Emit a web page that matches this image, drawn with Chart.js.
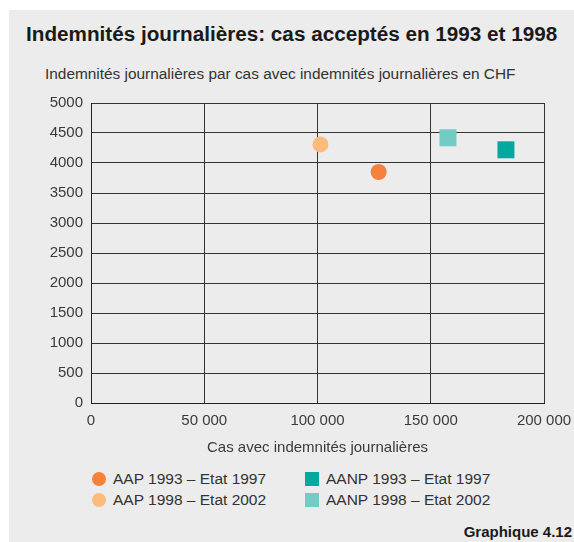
<!DOCTYPE html>
<html lang="fr">
<head>
    <meta charset="UTF-8">
    <title>Indemnités journalières</title>
    <script src="https://cdn.jsdelivr.net/npm/chart.js"></script>
    <style>
        body {
            margin: 0;
            background: #fff;
            font-family: "Liberation Sans", Arial, sans-serif;
            width: 574px;
            height: 542px;
            position: relative;
            overflow: hidden;
        }
        #panel {
            position: absolute;
            left: 9px;
            top: 10px;
            width: 565px;
            height: 532px;
            background: #ebeceb;
        }
        h1 {
            position: absolute;
            left: 26px;
            top: 22px;
            margin: 0;
            font-size: 20.7px;
            font-weight: bold;
            color: #1a1a1a;
            white-space: nowrap;
        }
        .ytitle {
            position: absolute;
            left: 45px;
            top: 65px;
            font-size: 15.4px;
            color: #333;
            white-space: nowrap;
        }
        #chartBox {
            position: absolute;
            left: 0;
            top: 90px;
            width: 574px;
            height: 370px;
        }
        #legend {
            position: absolute;
            left: 92px;
            top: 470px;
            display: grid;
            grid-template-columns: 213px 220px;
            row-gap: 3px;
            font-size: 15.5px;
            color: #333;
        }
        #legend div {
            display: flex;
            align-items: center;
            height: 18px;
            white-space: nowrap;
        }
        #legend span.mark {
            display: inline-block;
            width: 14px;
            height: 14px;
            margin-right: 7px;
        }
        .footer {
            position: absolute;
            right: 2px;
            top: 523px;
            font-size: 15px;
            font-weight: bold;
            color: #1a1a1a;
        }
    </style>
</head>
<body>
<div id="panel"></div>
<h1>Indemnités journalières: cas acceptés en 1993 et 1998</h1>
<div class="ytitle">Indemnités journalières par cas avec indemnités journalières en CHF</div>
<div id="chartBox"><canvas id="scatter"></canvas></div>
<div id="legend"></div>
<div class="footer">Graphique 4.12</div>

<script>
    // données
    const seriesLabels = ['AAP 1993 – Etat 1997', 'AAP 1998 – Etat 2002', 'AANP 1993 – Etat 1997', 'AANP 1998 – Etat 2002'];
    const casIndemnites = [127000, 101300, 183200, 157600];
    const indemniteParCas = [3850, 4310, 4220, 4420];
    const xTicks = [0, 50000, 100000, 150000, 200000];
    const yTicks = [0, 500, 1000, 1500, 2000, 2500, 3000, 3500, 4000, 4500, 5000];

    const colors = ['#f5813a', '#fdbb7e', '#00a99d', '#73cbc4'];
    const shapes = ['circle', 'circle', 'rect', 'rect'];
    const legendOrder = [0, 2, 1, 3];

    const datasets = seriesLabels.map((label, i) => ({
        label: label,
        data: [{x: casIndemnites[i], y: indemniteParCas[i]}],
        backgroundColor: colors[i],
        borderWidth: 0,
        pointStyle: shapes[i],
        pointRadius: shapes[i] === 'rect' ? 12 : 8,
        pointHoverRadius: shapes[i] === 'rect' ? 12 : 8
    }));

    // légende HTML en deux colonnes
    const legend = document.getElementById('legend');
    legendOrder.forEach(i => {
        const item = document.createElement('div');
        const mark = document.createElement('span');
        mark.className = 'mark';
        mark.style.background = colors[i];
        if (shapes[i] === 'circle') mark.style.borderRadius = '50%';
        item.appendChild(mark);
        item.appendChild(document.createTextNode(seriesLabels[i]));
        legend.appendChild(item);
    });

    const tickFont = {family: '"Liberation Sans", Arial, sans-serif', size: 15};

    new Chart(document.getElementById('scatter'), {
        type: 'scatter',
        data: {datasets: datasets},
        options: {
            responsive: true,
            maintainAspectRatio: false,
            animation: false,
            layout: {padding: {top: 13, right: 30, bottom: 0, left: 0}},
            plugins: {
                legend: {display: false},
                tooltip: {enabled: false}
            },
            scales: {
                x: {
                    type: 'linear',
                    min: xTicks[0],
                    max: xTicks[xTicks.length - 1],
                    afterBuildTicks: s => { s.ticks = xTicks.map(v => ({value: v})); },
                    afterFit: s => { s.height = 57; s.paddingLeft = 0; s.paddingRight = 0; },
                    grid: {color: '#333', lineWidth: 1, drawTicks: false},
                    border: {color: '#222', width: 1},
                    ticks: {
                        font: tickFont,
                        color: '#3a3a3a',
                        padding: 9,
                        maxRotation: 0,
                        callback: v => v === 0 ? '0' : String(v).replace(/\B(?=(\d{3})+(?!\d))/g, ' ')
                    },
                    title: {
                        display: true,
                        text: 'Cas avec indemnités journalières',
                        font: tickFont,
                        color: '#3a3a3a',
                        padding: {top: 0, bottom: 3}
                    }
                },
                y: {
                    type: 'linear',
                    min: yTicks[0],
                    max: yTicks[yTicks.length - 1],
                    afterBuildTicks: s => { s.ticks = yTicks.map(v => ({value: v})); },
                    afterFit: s => { s.width = 91; s.paddingTop = 0; s.paddingBottom = 0; },
                    grid: {color: '#333', lineWidth: 1, drawTicks: false},
                    border: {color: '#222', width: 1},
                    ticks: {
                        font: tickFont,
                        color: '#3a3a3a',
                        padding: 8,
                        callback: v => String(v)
                    }
                }
            }
        }
    });
</script>
</body>
</html>
